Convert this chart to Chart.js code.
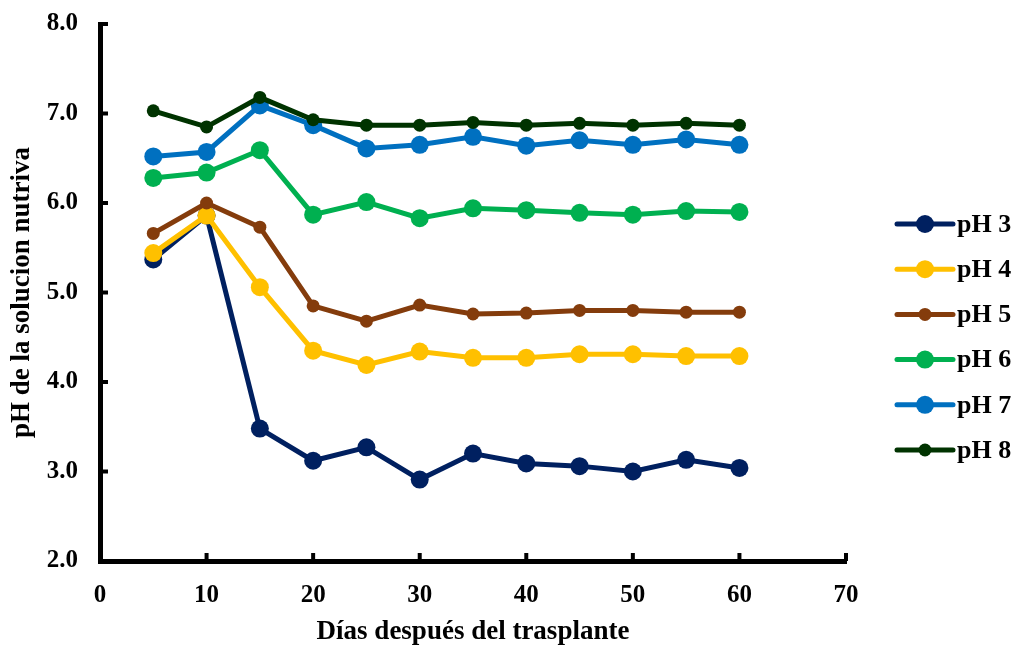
<!DOCTYPE html>
<html>
<head>
<meta charset="utf-8">
<script src="https://cdn.jsdelivr.net/npm/chart.js@4.4.0/dist/chart.umd.min.js"></script>
<style>
  html, body { margin: 0; padding: 0; background: #fff; }
  #wrap { width: 1019px; height: 648px; }
</style>
</head>
<body>
<div id="wrap"><canvas id="myChart" width="1019" height="648"></canvas></div>
<script>
const days = [5, 10, 15, 20, 25, 30, 35, 40, 45, 50, 55, 60];
const seriesNames = ['pH 3', 'pH 4', 'pH 5', 'pH 6', 'pH 7', 'pH 8'];
const ph3 = [5.37, 5.86, 3.48, 3.12, 3.27, 2.91, 3.20, 3.09, 3.06, 3.00, 3.13, 3.04];
const ph4 = [5.44, 5.86, 5.06, 4.35, 4.19, 4.34, 4.27, 4.27, 4.31, 4.31, 4.29, 4.29];
const ph5 = [5.66, 6.00, 5.73, 4.85, 4.68, 4.86, 4.76, 4.77, 4.80, 4.80, 4.78, 4.78];
const ph6 = [6.28, 6.34, 6.59, 5.87, 6.01, 5.83, 5.94, 5.92, 5.89, 5.87, 5.91, 5.90];
const ph7 = [6.52, 6.57, 7.09, 6.87, 6.61, 6.65, 6.74, 6.64, 6.70, 6.65, 6.71, 6.65];
const ph8 = [7.03, 6.85, 7.18, 6.93, 6.87, 6.87, 6.90, 6.87, 6.89, 6.87, 6.89, 6.87];
const yTicks = [2, 3, 4, 5, 6, 7, 8];
const xTicks = [0, 10, 20, 30, 40, 50, 60, 70];

const colors = ['#002060', '#FFC000', '#843C0C', '#00B050', '#0070C0', '#003300'];
const radii = [9, 9, 6.5, 9, 9, 6.5];
const allSeries = [ph3, ph4, ph5, ph6, ph7, ph8];

const FAMILY = "'Liberation Serif', 'Times New Roman', serif";
const TICK_FONT = { family: FAMILY, size: 25, weight: 'bold' };
const TITLE_FONT = { family: FAMILY, size: 27, weight: 'bold' };

const datasets = allSeries.map((vals, i) => ({
  label: seriesNames[i],
  data: days.map((d, j) => ({ x: d, y: vals[j] })),
  borderColor: colors[i],
  backgroundColor: colors[i],
  pointBackgroundColor: colors[i],
  pointBorderColor: colors[i],
  borderWidth: 5,
  pointRadius: radii[i],
  pointHoverRadius: radii[i],
  pointBorderWidth: 0,
  tension: 0,
  order: seriesNames.length - 1 - i
}));

// ticks pointing inward + custom legend
const extras = {
  id: 'extras',
  afterDraw(chart) {
    const c = chart.ctx;
    const area = chart.chartArea;
    const xs = chart.scales.x;
    const ys = chart.scales.y;
    c.save();
    c.strokeStyle = '#000';
    c.lineWidth = 4;
    yTicks.forEach(v => {
      const py = ys.getPixelForValue(v);
      c.beginPath();
      c.moveTo(area.left, py);
      c.lineTo(area.left + 8, py);
      c.stroke();
    });
    xTicks.forEach(v => {
      const px = xs.getPixelForValue(v);
      c.beginPath();
      c.moveTo(px, area.bottom);
      c.lineTo(px, area.bottom - 8);
      c.stroke();
    });

    // legend
    const lx = 897, lw = 56, top = 224, step = 45.2;
    c.font = 'bold 26px ' + FAMILY;
    c.textBaseline = 'middle';
    c.textAlign = 'left';
    chart.data.datasets.forEach((ds, i) => {
      const y = top + i * step;
      c.strokeStyle = ds.borderColor;
      c.lineWidth = 5;
      c.lineCap = 'round';
      c.beginPath();
      c.moveTo(lx, y);
      c.lineTo(lx + lw, y);
      c.stroke();
      c.fillStyle = ds.borderColor;
      c.beginPath();
      c.arc(lx + lw / 2, y, ds.pointRadius, 0, Math.PI * 2);
      c.fill();
      c.fillStyle = '#000';
      c.fillText(ds.label, lx + lw + 4, y + 1);
    });
    c.restore();
  }
};

new Chart(document.getElementById('myChart'), {
  type: 'line',
  data: { datasets: datasets },
  options: {
    responsive: false,
    animation: false,
    layout: { autoPadding: false, padding: { left: 0, right: 173, top: 24, bottom: 0 } },
    plugins: {
      legend: { display: false },
      tooltip: { enabled: false }
    },
    scales: {
      x: {
        type: 'linear',
        min: 0,
        max: 70,
        afterBuildTicks: axis => { axis.ticks = xTicks.map(v => ({ value: v })); },
        afterFit: axis => { axis.height = 87; axis.paddingLeft = 0; axis.paddingRight = 0; },
        grid: { display: false, drawTicks: false },
        border: { display: true, color: '#000', width: 5 },
        ticks: { color: '#000', font: TICK_FONT, padding: 20, maxRotation: 0 },
        title: {
          display: true,
          text: 'Días después del trasplante',
          color: '#000',
          font: TITLE_FONT,
          padding: { top: 0, bottom: 0 }
        }
      },
      y: {
        type: 'linear',
        min: 2,
        max: 8,
        afterBuildTicks: axis => { axis.ticks = yTicks.map(v => ({ value: v })); },
        afterFit: axis => { axis.width = 100; axis.paddingTop = 0; axis.paddingBottom = 0; },
        grid: { display: false, drawTicks: false },
        border: { display: true, color: '#000', width: 5 },
        ticks: {
          color: '#000',
          font: TICK_FONT,
          padding: 22,
          callback: v => Number(v).toFixed(1)
        },
        title: {
          display: true,
          text: 'pH de la solucion nutriva',
          color: '#000',
          font: TITLE_FONT,
          padding: { top: 6, bottom: 0 }
        }
      }
    }
  },
  plugins: [extras]
});
</script>
</body>
</html>
